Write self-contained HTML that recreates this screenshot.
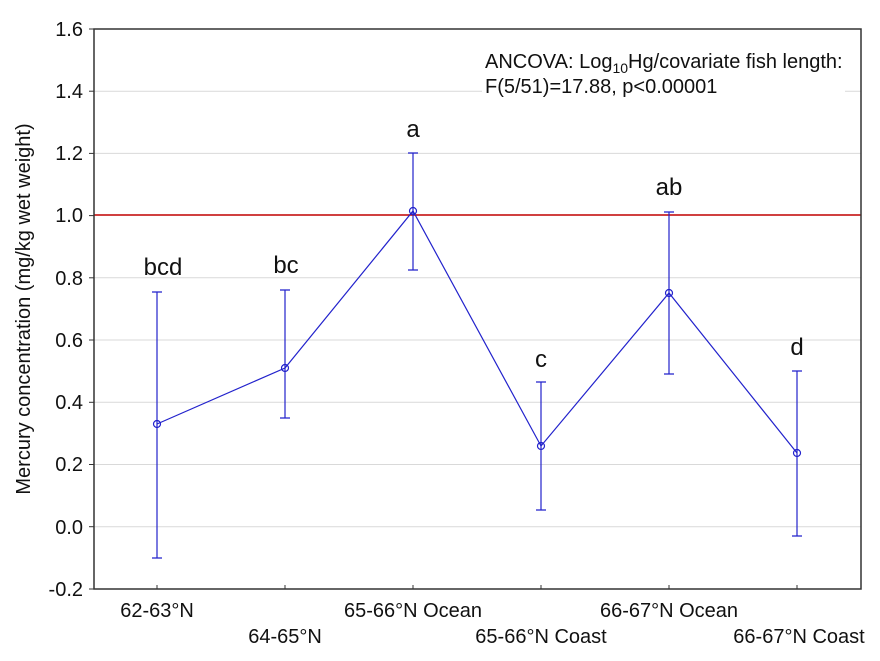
<!DOCTYPE html>
<html><head><meta charset="utf-8"><style>body{margin:0;background:#fff}svg{display:block;font-family:"Liberation Sans",Arial,sans-serif}</style></head><body>
<svg width="880" height="661" viewBox="0 0 880 661">
<rect width="880" height="661" fill="#fff"/>
<g stroke="#d9d9d9" stroke-width="1">
<line x1="94" x2="861" y1="91.2" y2="91.2"/><line x1="94" x2="861" y1="153.4" y2="153.4"/>
<line x1="94" x2="861" y1="277.8" y2="277.8"/><line x1="94" x2="861" y1="340" y2="340"/><line x1="94" x2="861" y1="402.3" y2="402.3"/>
<line x1="94" x2="861" y1="464.5" y2="464.5"/><line x1="94" x2="861" y1="526.7" y2="526.7"/>
</g>
<rect x="482" y="40" width="363" height="60" fill="#fff"/>
<line x1="94" x2="861" y1="215" y2="215" stroke="#c00000" stroke-width="1.6"/>
<rect x="94" y="29" width="767" height="560" fill="none" stroke="#333" stroke-width="1.5"/>
<g stroke="#333" stroke-width="1">
<line x1="89" x2="94" y1="29" y2="29"/><line x1="89" x2="94" y1="91.2" y2="91.2"/><line x1="89" x2="94" y1="153.4" y2="153.4"/><line x1="89" x2="94" y1="215.6" y2="215.6"/><line x1="89" x2="94" y1="277.8" y2="277.8"/><line x1="89" x2="94" y1="340" y2="340"/><line x1="89" x2="94" y1="402.3" y2="402.3"/><line x1="89" x2="94" y1="464.5" y2="464.5"/><line x1="89" x2="94" y1="526.7" y2="526.7"/><line x1="89" x2="94" y1="589" y2="589"/>
<line x1="157" x2="157" y1="585" y2="589"/><line x1="285" x2="285" y1="585" y2="589"/><line x1="413" x2="413" y1="585" y2="589"/><line x1="541" x2="541" y1="585" y2="589"/><line x1="669" x2="669" y1="585" y2="589"/><line x1="797" x2="797" y1="585" y2="589"/>
</g>
<g font-size="20" fill="#111" text-anchor="end">
<text x="83" y="36">1.6</text><text x="83" y="98">1.4</text><text x="83" y="160">1.2</text><text x="83" y="222">1.0</text><text x="83" y="285">0.8</text><text x="83" y="347">0.6</text><text x="83" y="409">0.4</text><text x="83" y="471">0.2</text><text x="83" y="534">0.0</text><text x="83" y="596">-0.2</text>
</g>
<g font-size="20" fill="#111" text-anchor="middle">
<text x="157" y="617">62-63°N</text><text x="285" y="643">64-65°N</text><text x="413" y="617">65-66°N Ocean</text><text x="541" y="643">65-66°N Coast</text><text x="669" y="617">66-67°N Ocean</text><text x="799" y="643">66-67°N Coast</text>
</g>
<text transform="translate(30,309) rotate(-90)" font-size="20" fill="#111" text-anchor="middle">Mercury concentration (mg/kg wet weight)</text>
<g font-size="20" fill="#111"><text x="485" y="68">ANCOVA: Log<tspan font-size="14" dy="5">10</tspan><tspan dy="-5">Hg/covariate fish length:</tspan></text><text x="485" y="93">F(5/51)=17.88, p&lt;0.00001</text></g>
<g stroke="#2222cc" stroke-width="1.2" fill="none">
<polyline points="157,424 285,368 413,211 541,446 669,293 797,453"/>
<path d="M157,292V558M152,292H162M152,558H162"/>
<path d="M285,290V418M280,290H290M280,418H290"/>
<path d="M413,153V270M408,153H418M408,270H418"/>
<path d="M541,382V510M536,382H546M536,510H546"/>
<path d="M669,212V374M664,212H674M664,374H674"/>
<path d="M797,371V536M792,371H802M792,536H802"/>
<circle cx="157" cy="424" r="3.5"/><circle cx="285" cy="368" r="3.5"/><circle cx="413" cy="211" r="3.5"/><circle cx="541" cy="446" r="3.5"/><circle cx="669" cy="293" r="3.5"/><circle cx="797" cy="453" r="3.5"/>
</g>
<g font-size="24" fill="#111" text-anchor="middle">
<text x="163" y="275">bcd</text><text x="286" y="273">bc</text><text x="413" y="137">a</text><text x="541" y="367">c</text><text x="669" y="195">ab</text><text x="797" y="355">d</text>
</g>
</svg>
</body></html>
